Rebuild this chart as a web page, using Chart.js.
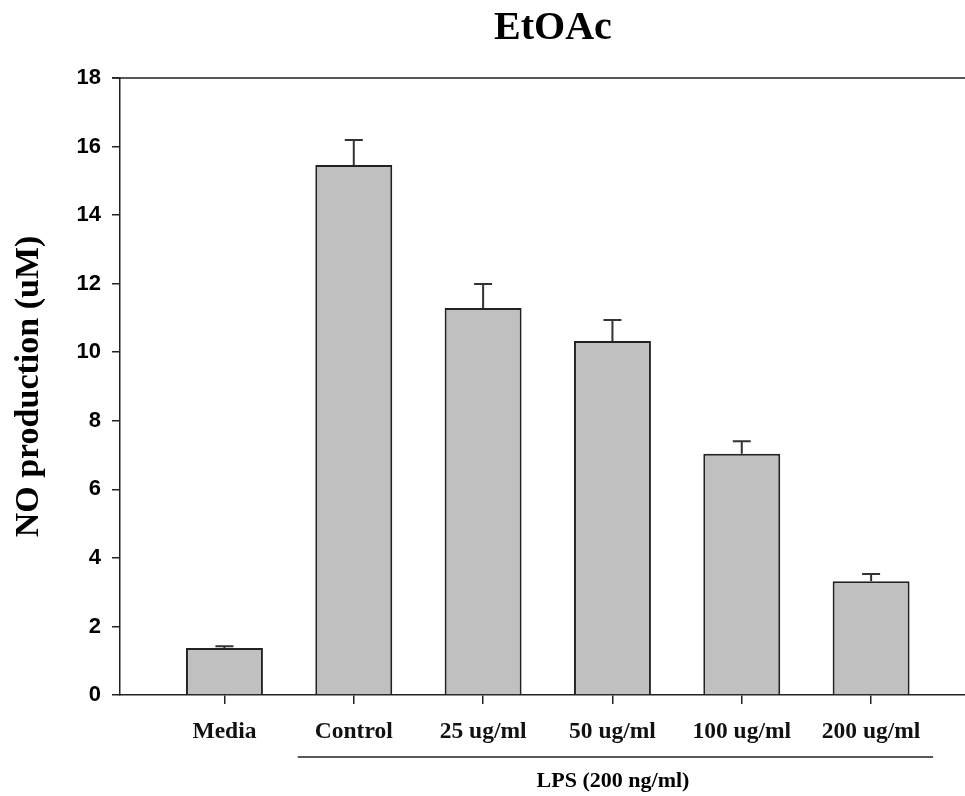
<!DOCTYPE html>
<html>
<head>
<meta charset="utf-8">
<script src="https://cdn.jsdelivr.net/npm/chart.js@4/dist/chart.umd.min.js"></script>
<style>
  html, body { margin: 0; padding: 0; background: #ffffff; }
  #wrap { width: 965px; height: 796px; position: relative; }
</style>
</head>
<body>
<div id="wrap"><canvas id="c" width="965" height="796"></canvas></div>
<script>
// ---- data ----
const categories = ["Media", "Control", "25 ug/ml", "50 ug/ml", "100 ug/ml", "200 ug/ml"];
const noValues   = [1.37, 15.46, 11.29, 10.33, 7.04, 3.32];
const noErrors   = [0.05, 0.73, 0.70, 0.61, 0.36, 0.21];
const yTicks     = [0, 2, 4, 6, 8, 10, 12, 14, 16, 18];
const chartTitle = "EtOAc";
const yTitle     = "NO production (uM)";
const groupLabel = "LPS (200 ng/ml)";
const groupFrom  = 1;   // index of first category under the LPS bracket
const groupTo    = 5;   // index of last category under the LPS bracket

const SERIF = "'Liberation Serif', 'Times New Roman', serif";
const SANS  = "'Liberation Sans', Arial, sans-serif";
const INK   = "#222222";

const points = categories.map((c, i) => ({ x: i + 1, y: noValues[i] }));

const extras = {
  id: 'extras',
  afterDatasetsDraw(chart) {
    const ctx = chart.ctx;
    const xs = chart.scales.x, ys = chart.scales.y;
    ctx.save();
    ctx.strokeStyle = "#333333";
    ctx.lineWidth = 2;
    noValues.forEach((v, i) => {
      const px = xs.getPixelForValue(i + 1);
      const top = ys.getPixelForValue(v);
      const hi = ys.getPixelForValue(v + noErrors[i]);
      ctx.beginPath();
      ctx.moveTo(px, top);
      ctx.lineTo(px, hi);
      ctx.moveTo(px - 9, hi);
      ctx.lineTo(px + 9, hi);
      ctx.stroke();
    });
    ctx.restore();
  },
  afterDraw(chart) {
    const ctx = chart.ctx;
    const xs = chart.scales.x, ys = chart.scales.y;
    const area = chart.chartArea;
    ctx.save();
    ctx.strokeStyle = INK;
    ctx.lineWidth = 1.5;
    const yTop = ys.getPixelForValue(18);
    ctx.beginPath();
    ctx.moveTo(area.left - 8, yTop);
    ctx.lineTo(area.right, yTop);
    ctx.stroke();
    ctx.fillStyle = "#000";
    ctx.textAlign = "center";
    ctx.textBaseline = "middle";
    ctx.font = "bold 40px " + SERIF;
    ctx.fillText(chartTitle, 553, 29);
    const x0 = xs.getPixelForValue(groupFrom + 1) - 56;
    const x1 = xs.getPixelForValue(groupTo + 1) + 62;
    ctx.beginPath();
    ctx.moveTo(x0, 757);
    ctx.lineTo(x1, 757);
    ctx.stroke();
    ctx.font = "bold 22px " + SERIF;
    ctx.fillText(groupLabel, 613, 781);
    ctx.restore();
  }
};

new Chart(document.getElementById('c'), {
  type: 'bar',
  data: {
    datasets: [{
      data: points,
      backgroundColor: "#c0c0c0",
      borderColor: INK,
      borderWidth: 2,
      borderSkipped: 'bottom',
      barPercentage: 0.595,
      categoryPercentage: 1.0
    }]
  },
  options: {
    responsive: false,
    animation: false,
    devicePixelRatio: 1,
    layout: { padding: { top: 78, left: 0, right: 0, bottom: 0 } },
    plugins: { legend: { display: false }, title: { display: false }, tooltip: { enabled: false } },
    scales: {
      x: {
        type: 'linear',
        offset: false,
        min: 0.1924,
        max: 6.726,
        afterBuildTicks(scale) { scale.ticks = categories.map((c, i) => ({ value: i + 1 })); },
        afterFit(scale) { scale.height = 101; },
        border: { display: true, color: INK, width: 1.5 },
        grid: { display: true, offset: false, drawOnChartArea: false, drawTicks: true, tickLength: 9, color: INK, lineWidth: 1.5 },
        ticks: {
          autoSkip: false,
          maxRotation: 0,
          padding: 14,
          color: "#111",
          font: { family: SERIF, size: 23.5, weight: 'bold' },
          callback: (v) => categories[Math.round(v) - 1] || ''
        }
      },
      y: {
        min: 0,
        max: 18,
        afterBuildTicks(scale) { scale.ticks = yTicks.map(v => ({ value: v })); },
        afterFit(scale) { scale.width = 120; },
        border: { display: true, color: INK, width: 1.5 },
        grid: { display: true, drawOnChartArea: false, drawTicks: true, tickLength: 8, color: INK, lineWidth: 1.5 },
        ticks: {
          padding: 11,
          color: "#000",
          font: { family: SANS, size: 22, weight: 'bold' }
        },
        title: {
          display: true,
          text: yTitle,
          color: "#000",
          font: { family: SERIF, size: 34, weight: 'bold' },
          padding: { top: 9, bottom: 0 }
        }
      }
    }
  },
  plugins: [extras]
});
</script>
</body>
</html>
